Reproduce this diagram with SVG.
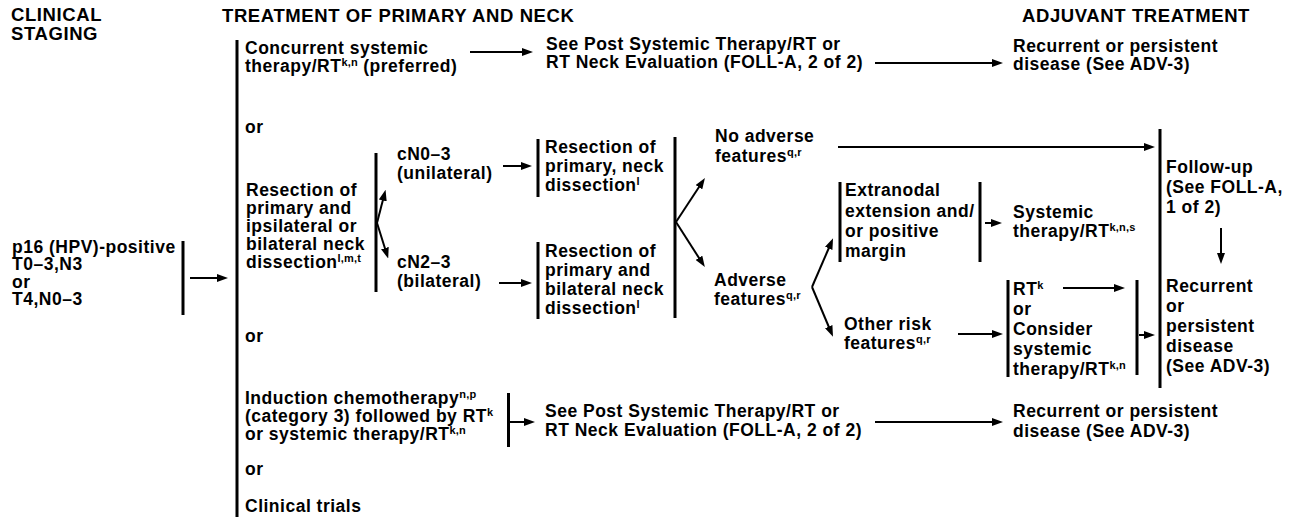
<svg xmlns="http://www.w3.org/2000/svg" width="1296" height="517" viewBox="0 0 1296 517">
<defs>
<style>
text{font-family:"Liberation Sans",Arial,Helvetica,sans-serif;font-weight:bold;fill:#000}
.t{font-size:17.5px;letter-spacing:0.5px}
.h{font-size:18.5px;letter-spacing:0.6px}
.s{font-size:11px;letter-spacing:0.2px}
.br{stroke:#000;stroke-width:3;fill:none}
.ar{stroke:#000;stroke-width:2;fill:none;marker-end:url(#ah)}
</style>
<marker id="ah" markerUnits="userSpaceOnUse" markerWidth="11" markerHeight="8" refX="2" refY="4" orient="auto">
<path d="M0,0 L11,4 L0,8 z" fill="#000"/>
</marker>
</defs>
<rect width="1296" height="517" fill="#fff"/>

<g id="headers">
<text class="h" x="11" y="21.3">CLINICAL</text>
<text class="h" x="11" y="40">STAGING</text>
<text class="h" x="222" y="22">TREATMENT OF PRIMARY AND NECK</text>
<text class="h" x="1022" y="22">ADJUVANT TREATMENT</text>
</g>

<g id="n-staging">
<text class="t" x="12" y="252.5">p16 (HPV)-positive</text>
<text class="t" x="12" y="270">T0–3,N3</text>
<text class="t" x="12" y="287.5">or</text>
<text class="t" x="12" y="305">T4,N0–3</text>
</g>

<g id="n-concurrent">
<text class="t" x="245" y="54">Concurrent systemic</text>
<text class="t" x="245" y="72">therapy/RT<tspan class="s" dy="-6">k,n</tspan><tspan dy="6"> (preferred)</tspan></text>
</g>

<g id="n-seepost1">
<text class="t" x="546" y="50">See Post Systemic Therapy/RT or</text>
<text class="t" x="546" y="67.5">RT Neck Evaluation (FOLL-A, 2 of 2)</text>
</g>

<g id="n-recur1">
<text class="t" x="1013" y="52">Recurrent or persistent</text>
<text class="t" x="1013" y="69.5">disease (See ADV-3)</text>
</g>

<g id="n-or1"><text class="t" x="245" y="133">or</text></g>

<g id="n-resection">
<text class="t" x="246" y="196">Resection of</text>
<text class="t" x="246" y="214">primary and</text>
<text class="t" x="246" y="232">ipsilateral or</text>
<text class="t" x="246" y="250">bilateral neck</text>
<text class="t" x="246" y="268">dissection<tspan class="s" dy="-6">l,m,t</tspan></text>
</g>

<g id="n-cn0">
<text class="t" x="397" y="160">cN0–3</text>
<text class="t" x="397" y="179">(unilateral)</text>
</g>

<g id="n-cn2">
<text class="t" x="397" y="268">cN2–3</text>
<text class="t" x="397" y="287">(bilateral)</text>
</g>

<g id="n-resneck">
<text class="t" x="545" y="153">Resection of</text>
<text class="t" x="545" y="172">primary, neck</text>
<text class="t" x="545" y="191">dissection<tspan class="s" dy="-6">l</tspan></text>
</g>

<g id="n-resbilat">
<text class="t" x="545" y="257">Resection of</text>
<text class="t" x="545" y="276">primary and</text>
<text class="t" x="545" y="295">bilateral neck</text>
<text class="t" x="545" y="314">dissection<tspan class="s" dy="-6">l</tspan></text>
</g>

<g id="n-noadverse">
<text class="t" x="715" y="142">No adverse</text>
<text class="t" x="715" y="162">features<tspan class="s" dy="-6">q,r</tspan></text>
</g>

<g id="n-adverse">
<text class="t" x="714" y="286">Adverse</text>
<text class="t" x="714" y="305">features<tspan class="s" dy="-6">q,r</tspan></text>
</g>

<g id="n-extranodal">
<text class="t" x="845" y="196">Extranodal</text>
<text class="t" x="845" y="216.5">extension and/</text>
<text class="t" x="845" y="237">or positive</text>
<text class="t" x="845" y="256.5">margin</text>
</g>

<g id="n-systemic">
<text class="t" x="1013" y="218">Systemic</text>
<text class="t" x="1013" y="237">therapy/RT<tspan class="s" dy="-6">k,n,s</tspan></text>
</g>

<g id="n-followup">
<text class="t" x="1166" y="173">Follow-up</text>
<text class="t" x="1166" y="193">(See FOLL-A,</text>
<text class="t" x="1166" y="213">1 of 2)</text>
</g>

<g id="n-recur2">
<text class="t" x="1166" y="292">Recurrent</text>
<text class="t" x="1166" y="312">or</text>
<text class="t" x="1166" y="332">persistent</text>
<text class="t" x="1166" y="352">disease</text>
<text class="t" x="1166" y="372">(See ADV-3)</text>
</g>

<g id="n-other">
<text class="t" x="844" y="330">Other risk</text>
<text class="t" x="844" y="349">features<tspan class="s" dy="-6">q,r</tspan></text>
</g>

<g id="n-rtopts">
<text class="t" x="1013" y="295">RT<tspan class="s" dy="-6">k</tspan></text>
<text class="t" x="1013" y="315">or</text>
<text class="t" x="1013" y="335">Consider</text>
<text class="t" x="1013" y="355">systemic</text>
<text class="t" x="1013" y="375">therapy/RT<tspan class="s" dy="-6">k,n</tspan></text>
</g>

<g id="n-or2"><text class="t" x="245" y="342">or</text></g>

<g id="n-induction">
<text class="t" x="245" y="403.5">Induction chemotherapy<tspan class="s" dy="-6">n,p</tspan></text>
<text class="t" x="245" y="421.5">(category 3) followed by RT<tspan class="s" dy="-6">k</tspan></text>
<text class="t" x="245" y="439.5">or systemic therapy/RT<tspan class="s" dy="-6">k,n</tspan></text>
</g>

<g id="n-seepost2">
<text class="t" x="545" y="417">See Post Systemic Therapy/RT or</text>
<text class="t" x="545" y="436">RT Neck Evaluation (FOLL-A, 2 of 2)</text>
</g>

<g id="n-recur3">
<text class="t" x="1013" y="417">Recurrent or persistent</text>
<text class="t" x="1013" y="437">disease (See ADV-3)</text>
</g>

<g id="n-or3"><text class="t" x="245" y="475">or</text></g>

<g id="n-trials"><text class="t" x="245" y="512">Clinical trials</text></g>

<g id="connectors">
<line class="br" x1="183" y1="241" x2="183" y2="315"/>
<line class="br" x1="237" y1="40" x2="237" y2="517"/>
<line class="br" x1="376" y1="153" x2="376" y2="292"/>
<line class="br" x1="538" y1="139" x2="538" y2="197"/>
<line class="br" x1="538" y1="242" x2="538" y2="319"/>
<line class="br" x1="675" y1="137" x2="675" y2="318"/>
<line class="br" x1="840" y1="182" x2="840" y2="262"/>
<line class="br" x1="980" y1="182" x2="980" y2="262"/>
<line class="br" x1="1160" y1="129" x2="1160" y2="388"/>
<line class="br" x1="1008" y1="280" x2="1008" y2="377"/>
<line class="br" x1="1137" y1="280" x2="1137" y2="375"/>
<line class="br" x1="508.5" y1="393" x2="508.5" y2="447"/>
<line class="ar" x1="190" y1="278" x2="219" y2="278"/>
<line class="ar" x1="470" y1="52" x2="524" y2="52"/>
<line class="ar" x1="875" y1="63" x2="994" y2="63"/>
<line class="ar" x1="377" y1="223" x2="383.3" y2="198.5"/>
<line class="ar" x1="377" y1="223" x2="385.5" y2="250"/>
<line class="ar" x1="503" y1="166" x2="523" y2="166"/>
<line class="ar" x1="499" y1="283" x2="523" y2="283"/>
<line class="ar" x1="676" y1="222" x2="700" y2="185.5"/>
<line class="ar" x1="676" y1="222" x2="700" y2="259.5"/>
<line class="ar" x1="838" y1="147" x2="1146" y2="147"/>
<line class="ar" x1="812" y1="287" x2="829.5" y2="246.5"/>
<line class="ar" x1="812" y1="287" x2="829.5" y2="328.5"/>
<line class="ar" x1="985" y1="223" x2="993" y2="223"/>
<line class="ar" x1="1221" y1="228" x2="1221" y2="255"/>
<line class="ar" x1="958" y1="334" x2="994" y2="334"/>
<line class="ar" x1="1063" y1="288" x2="1116" y2="288"/>
<line class="ar" x1="1139" y1="335" x2="1146" y2="335"/>
<line class="ar" x1="509" y1="422" x2="526" y2="422"/>
<line class="ar" x1="875" y1="422" x2="994" y2="422"/>
</g>
</svg>
